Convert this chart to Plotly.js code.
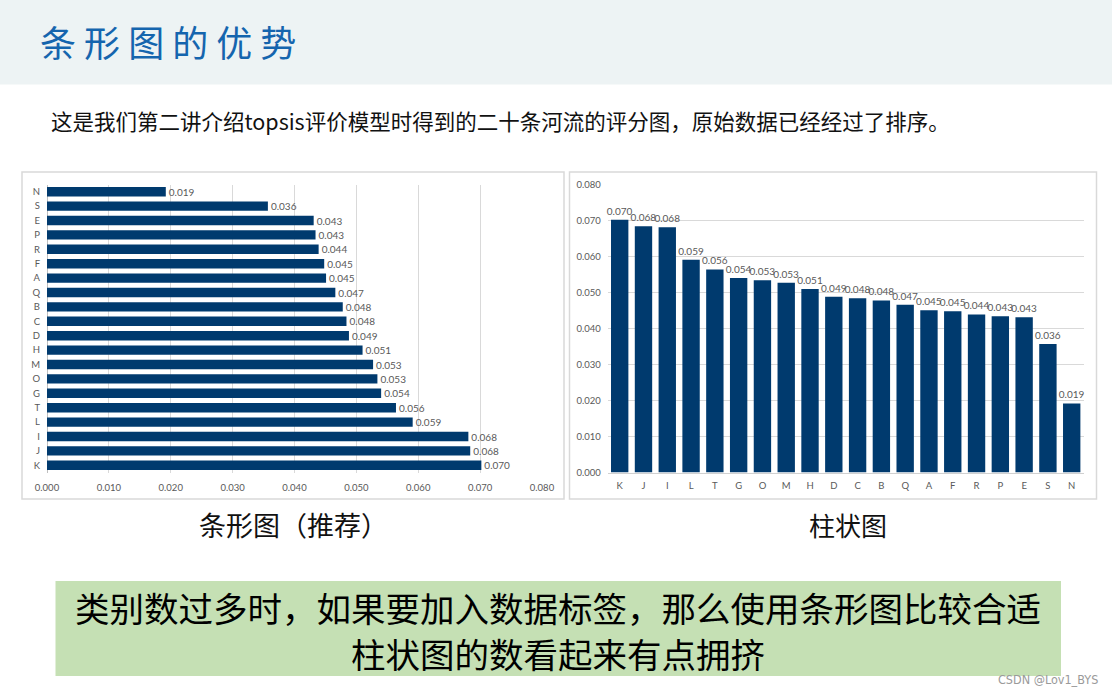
<!DOCTYPE html>
<html>
<head>
<meta charset="utf-8">
<script src="https://cdn.plot.ly/plotly-3.0.1.min.js"></script>
<style>
html,body{margin:0;padding:0;background:#fff;}
#chart{width:1112px;height:694px;}
</style>
</head>
<body>
<div id="chart"></div>
<script>
// Rivers, sorted by score (descending)
const rivers = ["K","J","I","L","T","G","O","M","H","D","C","B","Q","A","F","R","P","E","S","N"];
const scores = [0.0702,0.0684,0.0681,0.0591,0.0564,0.0540,0.0534,0.0527,0.0510,0.0488,0.0484,0.0478,0.0466,0.0451,0.0448,0.0439,0.0434,0.0431,0.0357,0.0192];
const axisTicks = [0,0.01,0.02,0.03,0.04,0.05,0.06,0.07,0.08];

const W = 1112, H = 694;
const px = v => v / W;
const py = v => 1 - v / H;

const navy = '#003A6E';
const tickFont = {family: 'Lato, "Open Sans", sans-serif', size: 9.5, color: '#595959'};
const cjk = '"Noto Sans CJK SC", sans-serif';

const barH = {
  type: 'bar', orientation: 'h',
  x: scores, y: rivers,
  xaxis: 'x', yaxis: 'y',
  width: 0.65,
  marker: {color: navy},
  texttemplate: '%{x:.3f}', textposition: 'outside',
  textfont: {family: 'Lato, "Open Sans", sans-serif', size: 10, color: '#595959'},
  constraintext: 'none', cliponaxis: false,
  hoverinfo: 'x+y'
};

const barV = {
  type: 'bar',
  x: rivers, y: scores,
  xaxis: 'x2', yaxis: 'y2',
  width: 0.73,
  marker: {color: navy},
  texttemplate: '%{y:.3f}', textposition: 'outside', textangle: 0,
  textfont: {family: 'Lato, "Open Sans", sans-serif', size: 10, color: '#595959'},
  constraintext: 'none', cliponaxis: false,
  hoverinfo: 'x+y'
};

const yTop = 184.5, yBot = 472.5;

const layout = {
  width: W, height: H,
  margin: {l: 0, r: 0, t: 0, b: 0},
  paper_bgcolor: '#ffffff', plot_bgcolor: 'rgba(0,0,0,0)',
  showlegend: false,
  xaxis: {
    domain: [px(47), px(542)], anchor: 'y',
    range: [0, 0.08], tickvals: axisTicks, tickformat: '.3f',
    showgrid: true, gridcolor: '#D9D9D9', gridwidth: 1,
    zeroline: true, zerolinecolor: '#BFBFBF', zerolinewidth: 1,
    showline: false, ticks: '', tickfont: tickFont, fixedrange: true,
    ticklabelstandoff: 8
  },
  yaxis: {
    domain: [py(yBot), py(yTop)], anchor: 'x',
    type: 'category', categoryorder: 'array', categoryarray: rivers,
    showgrid: false, zeroline: false, showline: false, ticks: '',
    tickfont: tickFont, fixedrange: true, ticklabelstandoff: 6
  },
  xaxis2: {
    domain: [px(607.8), px(1083.6)], anchor: 'y2',
    type: 'category', categoryorder: 'array', categoryarray: rivers,
    showgrid: false, zeroline: false, showline: true, linecolor: '#D0D0D0', linewidth: 1,
    ticks: '', tickfont: tickFont, fixedrange: true, ticklabelstandoff: 4
  },
  yaxis2: {
    domain: [py(yBot), py(yTop)], anchor: 'x2',
    range: [0, 0.08], tickvals: axisTicks, tickformat: '.3f',
    showgrid: true, gridcolor: '#D9D9D9', gridwidth: 1,
    zeroline: false, showline: false, ticks: '', tickfont: tickFont, fixedrange: true,
    ticklabelstandoff: 6
  },
  shapes: [
    {type: 'rect', xref: 'paper', yref: 'paper', x0: 0, x1: 1, y0: py(84.5), y1: 1,
     fillcolor: '#EDF3F4', line: {width: 0}, layer: 'below'},
    {type: 'rect', xref: 'paper', yref: 'paper', x0: px(22), x1: px(564), y0: py(499), y1: py(172),
     fillcolor: '#ffffff', line: {color: '#D9D9D9', width: 1.5}, layer: 'below'},
    {type: 'rect', xref: 'paper', yref: 'paper', x0: px(569.5), x1: px(1096.5), y0: py(499), y1: py(172),
     fillcolor: '#ffffff', line: {color: '#D9D9D9', width: 1.5}, layer: 'below'},
    {type: 'rect', xref: 'paper', yref: 'paper', x0: px(55.5), x1: px(1061), y0: py(676), y1: py(581),
     fillcolor: '#C5E0B4', line: {width: 0}, layer: 'below'}
  ],
  annotations: [
    {xref: 'paper', yref: 'paper', x: px(38), y: py(41), xanchor: 'left', yanchor: 'middle',
     text: '条 形 图 的 优 势', showarrow: false,
     font: {family: cjk, size: 36, color: '#1565AE'}},
    {xref: 'paper', yref: 'paper', x: px(49), y: py(120), xanchor: 'left', yanchor: 'middle',
     text: '这是我们第二讲介绍topsis评价模型时得到的二十条河流的评分图，原始数据已经经过了排序。', showarrow: false,
     font: {family: cjk, size: 21.5, color: '#111111'}},
    {xref: 'paper', yref: 'paper', x: px(293), y: py(524), xanchor: 'center', yanchor: 'middle',
     text: '条形图（推荐）', showarrow: false,
     font: {family: cjk, size: 27, color: '#111111'}},
    {xref: 'paper', yref: 'paper', x: px(848), y: py(524), xanchor: 'center', yanchor: 'middle',
     text: '柱状图', showarrow: false,
     font: {family: cjk, size: 26, color: '#111111'}},
    {xref: 'paper', yref: 'paper', x: px(558), y: py(607), xanchor: 'center', yanchor: 'middle',
     text: '类别数过多时，如果要加入数据标签，那么使用条形图比较合适', showarrow: false,
     font: {family: cjk, size: 34.5, color: '#000000'}},
    {xref: 'paper', yref: 'paper', x: px(558), y: py(653), xanchor: 'center', yanchor: 'middle',
     text: '柱状图的数看起来有点拥挤', showarrow: false,
     font: {family: cjk, size: 34.5, color: '#000000'}},
    {xref: 'paper', yref: 'paper', x: px(1100), y: py(679), xanchor: 'right', yanchor: 'middle',
     text: 'CSDN @Lov1_BYS', showarrow: false,
     font: {family: '"DejaVu Sans Condensed", "Liberation Sans Narrow", sans-serif', size: 12.5, color: '#9A9A9A'}}
  ]
};

Plotly.newPlot('chart', [barH, barV], layout, {displayModeBar: false, staticPlot: true});
</script>
</body>
</html>
